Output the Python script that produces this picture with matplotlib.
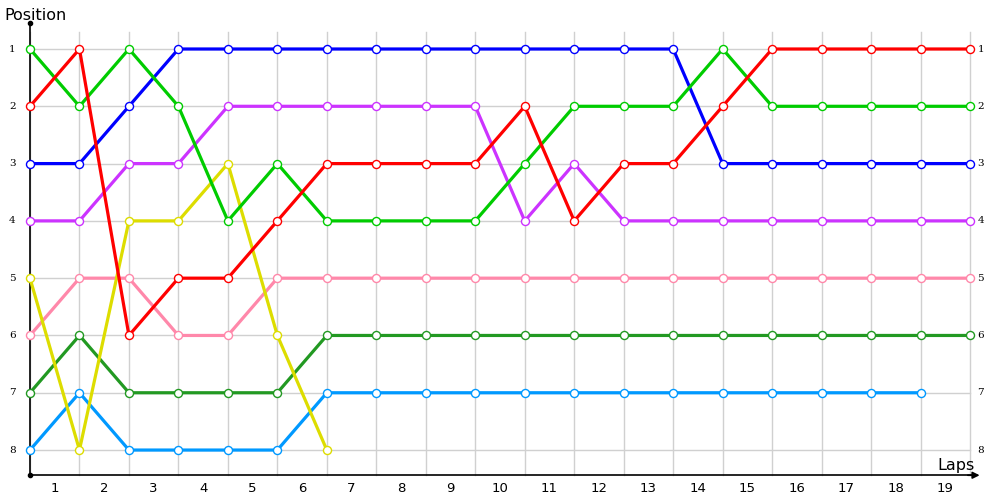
"""Lap chart: position of each driver per lap."""
import matplotlib
matplotlib.use("Agg")
import matplotlib.pyplot as plt

# positions at each lap mark (0..19); shorter lists = retired
red = [2, 1, 6, 5, 5, 4, 3, 3, 3, 3, 2, 4, 3, 3, 2, 1, 1, 1, 1, 1]
lime = [1, 2, 1, 2, 4, 3, 4, 4, 4, 4, 3, 2, 2, 2, 1, 2, 2, 2, 2, 2]
blue = [3, 3, 2, 1, 1, 1, 1, 1, 1, 1, 1, 1, 1, 1, 3, 3, 3, 3, 3, 3]
magenta = [4, 4, 3, 3, 2, 2, 2, 2, 2, 2, 4, 3, 4, 4, 4, 4, 4, 4, 4, 4]
yellow = [5, 8, 4, 4, 3, 6, 8]
pink = [6, 5, 5, 6, 6, 5, 5, 5, 5, 5, 5, 5, 5, 5, 5, 5, 5, 5, 5, 5]
darkgreen = [7, 6, 7, 7, 7, 7, 6, 6, 6, 6, 6, 6, 6, 6, 6, 6, 6, 6, 6, 6]
skyblue = [8, 7, 8, 8, 8, 8, 7, 7, 7, 7, 7, 7, 7, 7, 7, 7, 7, 7, 7]

series = [
    (skyblue, "#0099ff"),
    (darkgreen, "#229922"),
    (pink, "#ff88aa"),
    (yellow, "#dddd00"),
    (magenta, "#cc33ff"),
    (blue, "#0000ff"),
    (lime, "#00cc00"),
    (red, "#ff0000"),
]

lap_labels = [str(i) for i in range(1, 20)]
positions = list(range(1, 9))
n_marks = 20

fig = plt.figure(figsize=(10, 5), dpi=100)
ax = fig.add_axes([0, 0, 1, 1])
ax.set_xlim(-0.606, 19.606)
ax.set_ylim(8.872, 0.1447)
ax.axis("off")

grid = "#d0d0d0"
for i in range(n_marks):
    ax.plot([i, i], [0.70, 8.44], color=grid, lw=1, zorder=1)
for p in positions:
    ax.plot([0, n_marks - 1], [p, p], color=grid, lw=1, zorder=1)

# axes with arrows
ax.plot([0, 0], [0.55, 8.44], color="black", lw=1.2, zorder=2)
ax.plot([0, 19.1], [8.44, 8.44], color="black", lw=1.2, zorder=2)
ax.plot([0], [0.55], "o", color="black", ms=3, zorder=2)
ax.plot([0], [8.44], "o", color="black", ms=3, zorder=2)
ax.annotate("", xy=(19.25, 8.44), xytext=(18.9, 8.44),
            arrowprops=dict(arrowstyle="-|>", color="black", lw=1.2,
                            mutation_scale=10), zorder=2)

for vals, col in series:
    x = list(range(len(vals)))
    ax.plot(x, vals, color=col, lw=2.3, marker="o", ms=5.8,
            mfc="white", mec=col, mew=1.0, zorder=3, solid_joinstyle="round")

for p in positions:
    ax.text(-0.36, p, str(p), ha="center", va="center", fontsize=7.5,
            family="DejaVu Serif")
    ax.text(n_marks - 1 + 0.15, p, str(p), ha="left", va="center",
            fontsize=7.5, family="DejaVu Serif")

for i, lab in enumerate(lap_labels):
    ax.text(i + 0.5, 8.67, lab, ha="center", va="center", fontsize=9.5)

ax.text(-0.52, 0.42, "Position", ha="left", va="center", fontsize=11.5)
ax.text(19.1, 8.27, "Laps", ha="right", va="center", fontsize=11.5)

fig.savefig("out.png", dpi=100)
